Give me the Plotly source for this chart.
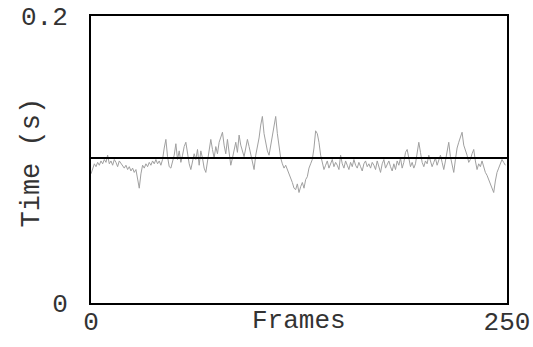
import plotly.graph_objects as go

frames = list(range(250))
times = [
    0.090, 0.094, 0.097, 0.095, 0.098, 0.096, 0.099, 0.097, 0.100, 0.098,
    0.103, 0.097, 0.099, 0.096, 0.100, 0.098, 0.095, 0.099, 0.097, 0.096,
    0.094, 0.096, 0.093, 0.095, 0.092, 0.094, 0.091, 0.093, 0.086, 0.080,
    0.090, 0.096, 0.094, 0.097, 0.095, 0.098, 0.096, 0.099, 0.097, 0.100,
    0.097, 0.099, 0.096, 0.100, 0.108, 0.114, 0.102, 0.095, 0.094, 0.098,
    0.103, 0.111, 0.100, 0.106, 0.098, 0.103, 0.109, 0.112, 0.104, 0.097,
    0.093, 0.099, 0.104, 0.100, 0.107, 0.096, 0.106, 0.101, 0.094, 0.091,
    0.098, 0.105, 0.114, 0.107, 0.101, 0.109, 0.104, 0.112, 0.115, 0.119,
    0.110, 0.104, 0.114, 0.106, 0.096, 0.101, 0.108, 0.112, 0.105, 0.117,
    0.110, 0.106, 0.102, 0.108, 0.114, 0.109, 0.104, 0.098, 0.093, 0.103,
    0.108, 0.115, 0.124, 0.130, 0.118, 0.111, 0.106, 0.103, 0.110, 0.116,
    0.124, 0.130, 0.118, 0.108, 0.101, 0.097, 0.094, 0.096, 0.093, 0.090,
    0.088, 0.084, 0.080, 0.079, 0.083, 0.077, 0.081, 0.084, 0.080, 0.086,
    0.088, 0.094, 0.097, 0.100, 0.108, 0.120, 0.118, 0.112, 0.103, 0.097,
    0.093, 0.096, 0.099, 0.094, 0.097, 0.100, 0.095, 0.098, 0.096, 0.093,
    0.103, 0.097, 0.094, 0.099, 0.096, 0.093, 0.098, 0.095, 0.100, 0.096,
    0.094, 0.098, 0.095, 0.092, 0.097, 0.099, 0.095, 0.097, 0.094, 0.098,
    0.096, 0.093, 0.099, 0.095, 0.091, 0.097, 0.100, 0.094, 0.096, 0.099,
    0.095, 0.092, 0.097, 0.093, 0.099, 0.096, 0.101, 0.094, 0.098, 0.105,
    0.107, 0.100, 0.095, 0.098, 0.094, 0.097, 0.104, 0.112, 0.105, 0.098,
    0.095, 0.099, 0.097, 0.103, 0.099, 0.095, 0.098, 0.101, 0.096, 0.099,
    0.103, 0.098, 0.093, 0.099, 0.107, 0.112, 0.102, 0.095, 0.091, 0.100,
    0.108, 0.112, 0.116, 0.119, 0.110, 0.107, 0.103, 0.098, 0.100, 0.104,
    0.107, 0.099, 0.093, 0.097, 0.095, 0.099, 0.094, 0.091, 0.089, 0.086,
    0.083, 0.079, 0.077, 0.085, 0.091, 0.094, 0.097, 0.100, 0.098, 0.096,
]
mean_time = 0.101
mean_x = [0, 250]

x_tickvals = [0, 250]
x_ticktext = ["0", "250"]
y_tickvals = [0, 0.2]
y_ticktext = ["0", "0.2"]
x_title = "Frames"
y_title = "Time (s)"

FONT = "Liberation Mono"
TXT = "#333333"
FS = 26

fig = go.Figure()
fig.add_trace(go.Scatter(x=frames, y=times, mode="lines",
                         line=dict(color="#a0a0a0", width=1), hoverinfo="skip"))
fig.add_trace(go.Scatter(x=mean_x, y=[mean_time, mean_time], mode="lines",
                         line=dict(color="black", width=2), hoverinfo="skip"))

fig.update_layout(
    width=533, height=347,
    margin=dict(l=91, r=26, t=16, b=44),
    paper_bgcolor="white", plot_bgcolor="white",
    showlegend=False,
    font=dict(family=FONT, size=FS, color=TXT),
    xaxis=dict(range=[0, 250], tickvals=x_tickvals, ticktext=x_ticktext,
               showgrid=False, zeroline=False, showline=True, mirror=True,
               linecolor="black", linewidth=2, ticks="", automargin=False,
               ticklabelstandoff=-6,
               tickfont=dict(family=FONT, size=FS, color=TXT)),
    yaxis=dict(range=[0, 0.2], tickvals=y_tickvals, ticktext=y_ticktext,
               showgrid=False, zeroline=False, showline=True, mirror=True,
               linecolor="black", linewidth=2, ticks="", ticklabelstandoff=16,
               automargin=False,
               tickfont=dict(family=FONT, size=FS, color=TXT)),
    annotations=[
        dict(text=x_title, xref="paper", yref="paper", x=0.5, y=0,
             yshift=-18, xanchor="center", yanchor="middle", showarrow=False,
             font=dict(family=FONT, size=FS, color=TXT)),
        dict(text=y_title, xref="paper", yref="paper", x=0, y=0.5,
             xshift=-60, yshift=-3, xanchor="center", yanchor="middle",
             textangle=-90, showarrow=False,
             font=dict(family=FONT, size=27, color=TXT)),
    ],
)

fig.write_html("out.html", config={"displayModeBar": False},
               post_script="document.body.style.margin='0';")
